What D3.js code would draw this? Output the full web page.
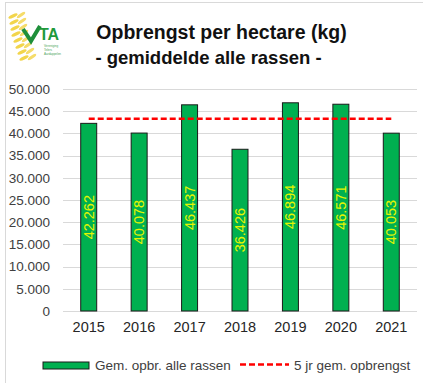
<!DOCTYPE html>
<html>
<head>
<meta charset="utf-8">
<script src="https://cdn.jsdelivr.net/npm/d3@7/dist/d3.min.js"></script>
<style>
  html, body { margin: 0; padding: 0; background: #fff; }
  svg { display: block; font-family: "Liberation Sans", Arial, sans-serif; }
</style>
</head>
<body>
<svg id="chart" width="423" height="383"></svg>
<script>
// ---- data ----
const years = ["2015", "2016", "2017", "2018", "2019", "2020", "2021"];
const yieldValues = [42262, 40078, 46437, 36426, 46894, 46571, 40053];
const fiveYearAvg = [43276, 43276, 43276, 43276, 43276, 43276, 43276];
const yTicks = [0, 5000, 10000, 15000, 20000, 25000, 30000, 35000, 40000, 45000, 50000];
const titleLines = ["Opbrengst per hectare (kg)", "- gemiddelde alle rassen -"];
const legendLabels = ["Gem. opbr. alle rassen", "5 jr gem. opbrengst"];
const logoSmallText = ["Vereniging", "Telers", "Aardappelen"];

const fmt = v => d3.format(",")(v).replace(/,/g, ".");

const svg = d3.select("#chart");

// outer chart border (cropped at right/bottom)
svg.append("rect").attr("x", 5.5).attr("y", 2.5).attr("width", 440).attr("height", 400)
  .attr("fill", "none").attr("stroke", "#d9d9d9").attr("stroke-width", 1);

// ---- logo ----
const logo = svg.append("g");
const earPts = [[16,16],[17,22],[18,28],[19,34],[21,40],[23,46],[25,52],[27,58]];
earPts.forEach((p, i) => {
  logo.append("ellipse").attr("cx", p[0] - 3).attr("cy", p[1]).attr("rx", 5).attr("ry", 1.6)
    .attr("transform", `rotate(-25,${p[0]-3},${p[1]})`).attr("fill", "#f2d54b");
  logo.append("ellipse").attr("cx", p[0] + 5).attr("cy", p[1] - 1).attr("rx", 5).attr("ry", 1.6)
    .attr("transform", `rotate(-35,${p[0]+5},${p[1]-1})`).attr("fill", "#f5dc6a");
});
logo.append("path").attr("d", "M23,29 L31,41 L40,26")
  .attr("fill", "none").attr("stroke", "#1e8f3a").attr("stroke-width", 4).attr("stroke-linejoin", "miter");
logo.append("text").attr("x", 39).attr("y", 40).attr("font-size", 16).attr("font-weight", "bold")
  .attr("fill", "#1f9a3c").text("TA");
logoSmallText.forEach((t, i) => {
  logo.append("text").attr("x", 44).attr("y", 47 + i * 4).attr("font-size", 3)
    .attr("fill", "#4aa45a").text(t);
});

// ---- title ----
svg.append("text").attr("x", 221.5).attr("y", 39).attr("text-anchor", "middle")
  .attr("font-size", 19.5).attr("font-weight", "bold").attr("fill", "#111").text(titleLines[0]);
svg.append("text").attr("x", 208.5).attr("y", 64).attr("text-anchor", "middle")
  .attr("font-size", 18.5).attr("font-weight", "bold").attr("fill", "#111").text(titleLines[1]);

// ---- scales ----
const x = d3.scaleBand().domain(years).range([63.5, 416.5]).paddingInner(0.683).paddingOuter(0.3415);
const y = d3.scaleLinear().domain([0, 50000]).range([311, 89]);

// gridlines
svg.append("g").selectAll("line").data(yTicks).join("line")
  .attr("x1", 63).attr("x2", 417)
  .attr("y1", d => Math.round(y(d)) + 0.5).attr("y2", d => Math.round(y(d)) + 0.5)
  .attr("stroke", "#d9d9d9").attr("stroke-width", 1);

// y axis labels
const yAxis = d3.axisLeft(y).tickValues(yTicks).tickFormat(fmt).tickSize(0).tickPadding(0);
const yg = svg.append("g").attr("transform", "translate(50,0)").call(yAxis);
yg.select(".domain").remove();
yg.selectAll("text").attr("font-size", 13.5).attr("fill", "#404040")
  .attr("font-family", "Liberation Sans, Arial, sans-serif");

// x axis labels
const xAxis = d3.axisBottom(x).tickSize(0).tickPadding(0);
const xg = svg.append("g").attr("transform", "translate(0,322)").call(xAxis);
xg.select(".domain").remove();
xg.selectAll("text").attr("font-size", 14.5).attr("fill", "#262626")
  .attr("font-family", "Liberation Sans, Arial, sans-serif");

// bars
const data = years.map((yr, i) => ({ yr, v: yieldValues[i], avg: fiveYearAvg[i] }));
svg.append("g").selectAll("rect").data(data).join("rect")
  .attr("x", d => x(d.yr)).attr("width", x.bandwidth())
  .attr("y", d => y(d.v)).attr("height", d => y(0) - y(d.v))
  .attr("fill", "#00b050").attr("stroke", "#1a1a1a").attr("stroke-width", 1);

// bar labels (rotated)
svg.append("g").selectAll("text").data(data).join("text")
  .attr("transform", d => `translate(${x(d.yr) + x.bandwidth() / 2 + 5},${(y(d.v) + y(0)) / 2}) rotate(-90)`)
  .attr("text-anchor", "middle").attr("font-size", 14.5).attr("fill", "#e6f500")
  .text(d => fmt(d.v));

// 5-year average dashed line
const line = d3.line().x(d => x(d.yr) + x.bandwidth() / 2).y(d => y(d.avg));
svg.append("path").datum(data).attr("d", line)
  .attr("fill", "none").attr("stroke", "#ff0000").attr("stroke-width", 2.5)
  .attr("stroke-dasharray", "6,3");

// legend
svg.append("rect").attr("x", 43).attr("y", 362).attr("width", 46).attr("height", 7)
  .attr("fill", "#00b050").attr("stroke", "#1a1a1a").attr("stroke-width", 1);
svg.append("text").attr("x", 95).attr("y", 370).attr("font-size", 13.5).attr("fill", "#404040")
  .text(legendLabels[0]);
svg.append("line").attr("x1", 240).attr("x2", 289).attr("y1", 364.5).attr("y2", 364.5)
  .attr("stroke", "#ff0000").attr("stroke-width", 2.5).attr("stroke-dasharray", "6,3");
svg.append("text").attr("x", 294).attr("y", 370).attr("font-size", 13.5).attr("fill", "#404040")
  .text(legendLabels[1]);
</script>
</body>
</html>
